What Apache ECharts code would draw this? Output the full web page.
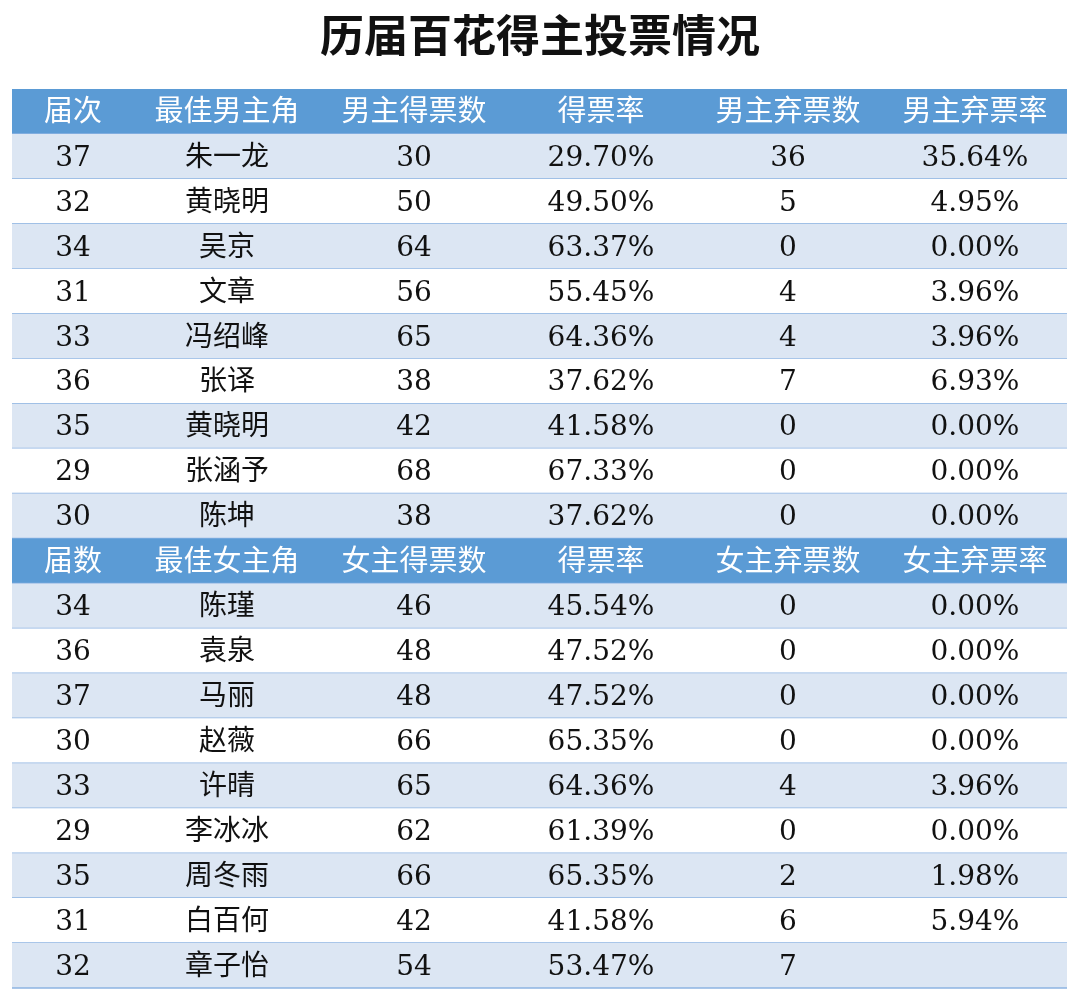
<!DOCTYPE html><html><head><meta charset="utf-8">
<script src="https://cdn.jsdelivr.net/npm/echarts@6/dist/echarts.min.js"></script>
<style>html,body{margin:0;background:#fff}#c{width:1080px;height:991px}</style></head><body><div id="c"></div>
<script>
const title = '历届百花得主投票情况';
const maleHeader = ['届次','最佳男主角','男主得票数','得票率','男主弃票数','男主弃票率'];
const maleSession = ['37','32','34','31','33','36','35','29','30'];
const maleName = ['朱一龙','黄晓明','吴京','文章','冯绍峰','张译','黄晓明','张涵予','陈坤'];
const maleVotes = ['30','50','64','56','65','38','42','68','38'];
const maleRate = ['29.70%','49.50%','63.37%','55.45%','64.36%','37.62%','41.58%','67.33%','37.62%'];
const maleAbst = ['36','5','0','4','4','7','0','0','0'];
const maleAbstRate = ['35.64%','4.95%','0.00%','3.96%','3.96%','6.93%','0.00%','0.00%','0.00%'];
const femaleHeader = ['届数','最佳女主角','女主得票数','得票率','女主弃票数','女主弃票率'];
const femaleSession = ['34','36','37','30','33','29','35','31','32'];
const femaleName = ['陈瑾','袁泉','马丽','赵薇','许晴','李冰冰','周冬雨','白百何','章子怡'];
const femaleVotes = ['46','48','48','66','65','62','66','42','54'];
const femaleRate = ['45.54%','47.52%','47.52%','65.35%','64.36%','61.39%','65.35%','41.58%','53.47%'];
const femaleAbst = ['0','0','0','0','4','0','2','6','7'];
const femaleAbstRate = ['0.00%','0.00%','0.00%','0.00%','3.96%','0.00%','1.98%','5.94%','—'];

const colCenter = [73,227,414,601,788,975];
const rows = [];
const cells = [];
function addBlock(header, cols, start){
  rows.push([start,'h']);
  header.forEach((t,i)=>cells.push([colCenter[i],start,t,'h']));
  for(let r=0;r<cols[0].length;r++){
    rows.push([start+1+r, r%2===0?'a':'b']);
    cols.forEach((c,i)=>{ if(c[r]!=='—') cells.push([colCenter[i],start+1+r,c[r],'d']); });
  }
}
addBlock(maleHeader,[maleSession,maleName,maleVotes,maleRate,maleAbst,maleAbstRate],0);
addBlock(femaleHeader,[femaleSession,femaleName,femaleVotes,femaleRate,femaleAbst,femaleAbstRate],10);
const rowCats = Array.from({length:20},(_,i)=>String(i));
const FONT = '"DejaVu Serif","Noto Sans CJK SC",serif';
const chart = echarts.init(document.getElementById('c'));
chart.setOption({
  backgroundColor:'#fff',
  title:{text:title,left:'center',top:8,textStyle:{fontSize:44,fontWeight:'bold',color:'#111',fontFamily:'"Noto Sans CJK SC"'}},
  grid:{left:12,right:13,top:89,bottom:3},
  xAxis:{type:'value',min:12,max:1067,show:false},
  yAxis:{type:'category',data:rowCats,inverse:true,show:false},
  series:[
    {type:'custom',data:rows,encode:{y:0},renderItem:(p,api)=>{
      const k=rows[p.dataIndex][1];
      const c0=api.coord([12,api.value(0)]), c1=api.coord([1067,api.value(0)]);
      const h=api.size([0,1])[1];
      const fill=k==='h'?'#5b9bd5':(k==='a'?'#dce6f3':'#ffffff');
      return {type:'group',children:[
        {type:'rect',shape:{x:c0[0],y:c0[1]-h/2,width:c1[0]-c0[0],height:h},style:{fill:fill}},
        {type:'line',shape:{x1:c0[0],y1:c0[1]+h/2,x2:c1[0],y2:c0[1]+h/2},style:{stroke:'#8db3e2',lineWidth:1.5}}
      ]};
    }},
    {type:'custom',data:cells,encode:{x:0,y:1},renderItem:(p,api)=>{
      const d=cells[p.dataIndex];
      const c=api.coord([d[0],d[1]]);
      return {type:'text',style:{text:d[2],x:c[0],y:c[1]+2,align:'center',verticalAlign:'middle',
        fontSize:d[3]==='h'?29:28,fontFamily:FONT,fill:d[3]==='h'?'#ffffff':'#111'}};
    }}
  ]
});
</script></body></html>
